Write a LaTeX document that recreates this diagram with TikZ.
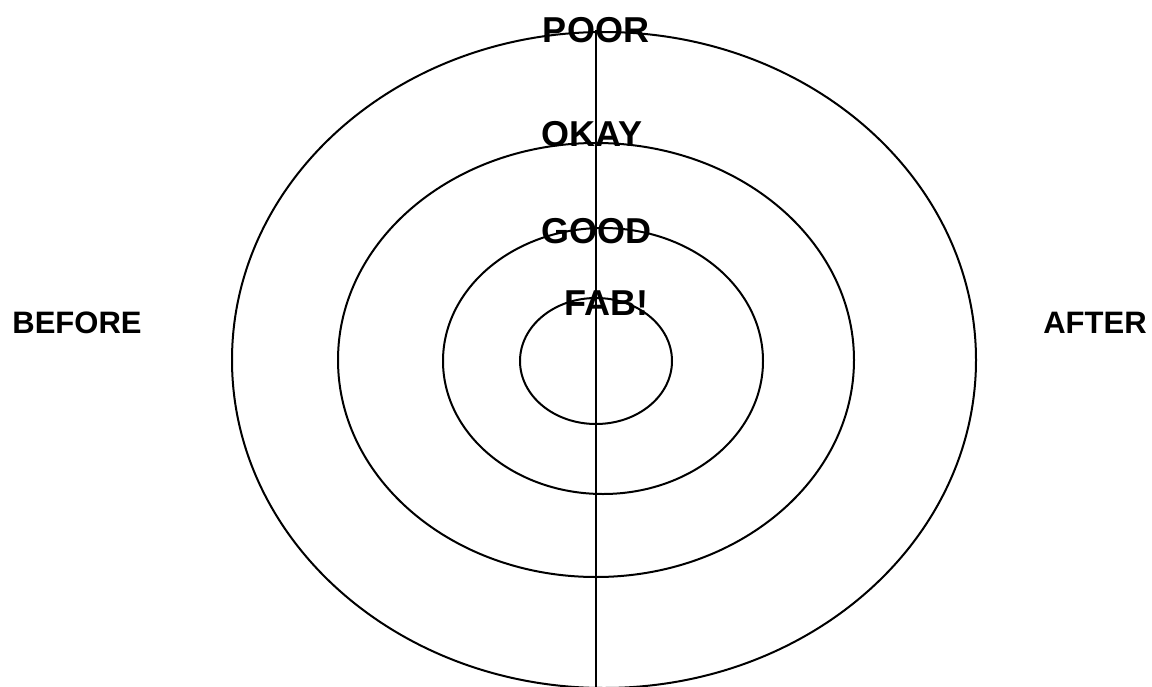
\documentclass[tikz,border=0pt]{standalone}
\usepackage{fontspec}
\setmainfont{Liberation Sans}
\usepackage{tikz}
\usetikzlibrary{positioning,calc}
\tikzset{
    ring/.style={draw, line width=1pt},
    ringlabel/.style={font=\bfseries\fontsize{18}{20}\selectfont, inner sep=0pt},
    sidelabel/.style={font=\bfseries\fontsize{15.5}{18}\selectfont, inner sep=0pt},
    divider/.style={draw, line width=1pt},
}
\begin{document}
\begin{tikzpicture}[x=0.5pt, y=-0.5pt]
        \clip (0,0) rectangle (1152,686);
        % target rings
        \draw[ring] (604,360) ellipse [x radius=372, y radius=328];
        \draw[ring] (596,360) ellipse [x radius=258, y radius=217];
        \draw[ring] (603,361) ellipse [x radius=160, y radius=133];
        \draw[ring] (596,361) ellipse [x radius=76, y radius=63];
        % split line
        \coordinate (top) at (596,30);
        \coordinate (bottom) at (596,690);
        \draw[divider] (top) -- (bottom);
        % labels
        \node[ringlabel] (poor) at (596,30) {POOR};
        \node[ringlabel] (okay) at (592,134) {OKAY};
        \node[ringlabel] (good) at (596,231) {GOOD};
        \node[ringlabel] (fab)  at (606,303) {FAB!};
        \node[sidelabel] (before) at (77,323) {BEFORE};
        \node[sidelabel] (after)  at (1095,323) {AFTER};
    \end{tikzpicture}
\end{document}
